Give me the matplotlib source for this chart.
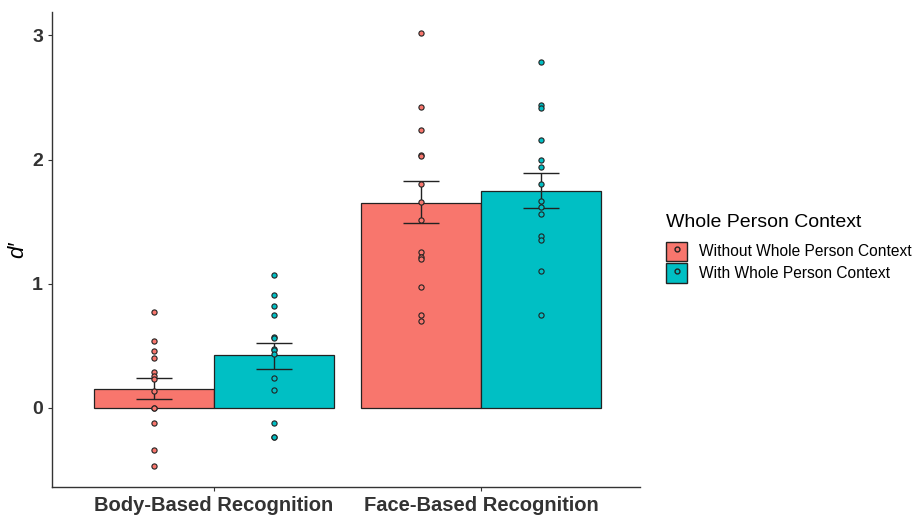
import matplotlib.pyplot as plt
from matplotlib.patches import Patch
from matplotlib.lines import Line2D

plt.rcParams['font.family'] = ['Liberation Sans', 'DejaVu Sans']

# Conditions and groups
tasks = ["Body-Based Recognition", "Face-Based Recognition"]
groups = ["Without Whole Person Context", "With Whole Person Context"]
colors = ["#F8766D", "#00BFC4"]

# Mean d' per task (rows) and group (cols)
means = [[0.153, 0.427], [1.653, 1.750]]
err_lo = [[0.073, 0.317], [1.49, 1.613]]
err_hi = [[0.242, 0.524], [1.83, 1.895]]

# Individual participant scores
body_without = [0.774, 0.540, 0.457, 0.398, 0.290, 0.258, 0.231, 0.140, 0.003, 0.0,
                -0.118, -0.341, -0.465]
body_with = [1.073, 0.906, 0.823, 0.747, 0.570, 0.563, 0.476, 0.468, 0.433, 0.239,
             0.143, -0.118, -0.231, -0.236]
face_without = [3.016, 2.425, 2.236, 2.035, 2.030, 1.806, 1.656, 1.514, 1.256, 1.215,
                1.200, 0.973, 0.750, 0.699]
face_with = [2.785, 2.438, 2.417, 2.161, 1.994, 1.938, 1.804, 1.664, 1.618, 1.565,
             1.387, 1.349, 1.099, 0.750]
points = [[body_without, body_with], [face_without, face_with]]

fig = plt.figure(figsize=(9.17, 5.15), dpi=100)
ax = fig.add_axes([0.0567, 0.0544, 0.6413, 0.9226])

width = 0.45
for i, task in enumerate(tasks):
    for j, grp in enumerate(groups):
        x = i + 1 + (j - 0.5) * width
        ax.bar(x, means[i][j], width=width, color=colors[j], edgecolor="#222222",
               linewidth=0.9, zorder=1)
        ax.errorbar(x, means[i][j],
                    yerr=[[means[i][j] - err_lo[i][j]], [err_hi[i][j] - means[i][j]]],
                    fmt="none", ecolor="#222222", elinewidth=1.0, capsize=13,
                    capthick=1.0, zorder=2)
        ax.scatter([x] * len(points[i][j]), points[i][j], s=14, color=colors[j],
                   edgecolor="#222222", linewidth=0.8, zorder=3)

ax.set_xlim(0.393, 2.596)
ax.set_ylim(-0.637, 3.19)
ax.set_xticks([1, 2])
ax.set_xticklabels(tasks, fontsize=14.5, fontweight="bold", color="#333333")
ax.set_yticks([0, 1, 2, 3])
ax.set_yticklabels(["0", "1", "2", "3"], fontsize=14, fontweight="bold", color="#333333")
ax.tick_params(length=3, color="#333333")
ax.set_ylabel("d′", fontsize=16, fontstyle="italic", labelpad=3)
for s in ["top", "right"]:
    ax.spines[s].set_visible(False)
for s in ["left", "bottom"]:
    ax.spines[s].set_color("#333333")
    ax.spines[s].set_linewidth(1.0)

handles = [(Patch(facecolor=c, edgecolor="#222222"),
            Line2D([], [], marker="o", linestyle="none", markersize=3.5,
                   markerfacecolor=c, markeredgecolor="#222222"))
           for c in colors]
leg = fig.legend(handles, groups, loc="center left", bbox_to_anchor=(0.718, 0.518),
                 frameon=False, title="Whole Person Context", fontsize=11.2,
                 title_fontsize=14, handlelength=1.35, handleheight=1.55,
                 handletextpad=0.75, labelspacing=0.15, borderpad=0)
leg._legend_box.align = "left"
leg._legend_box.sep = 8

fig.savefig("out.png", dpi=100)
